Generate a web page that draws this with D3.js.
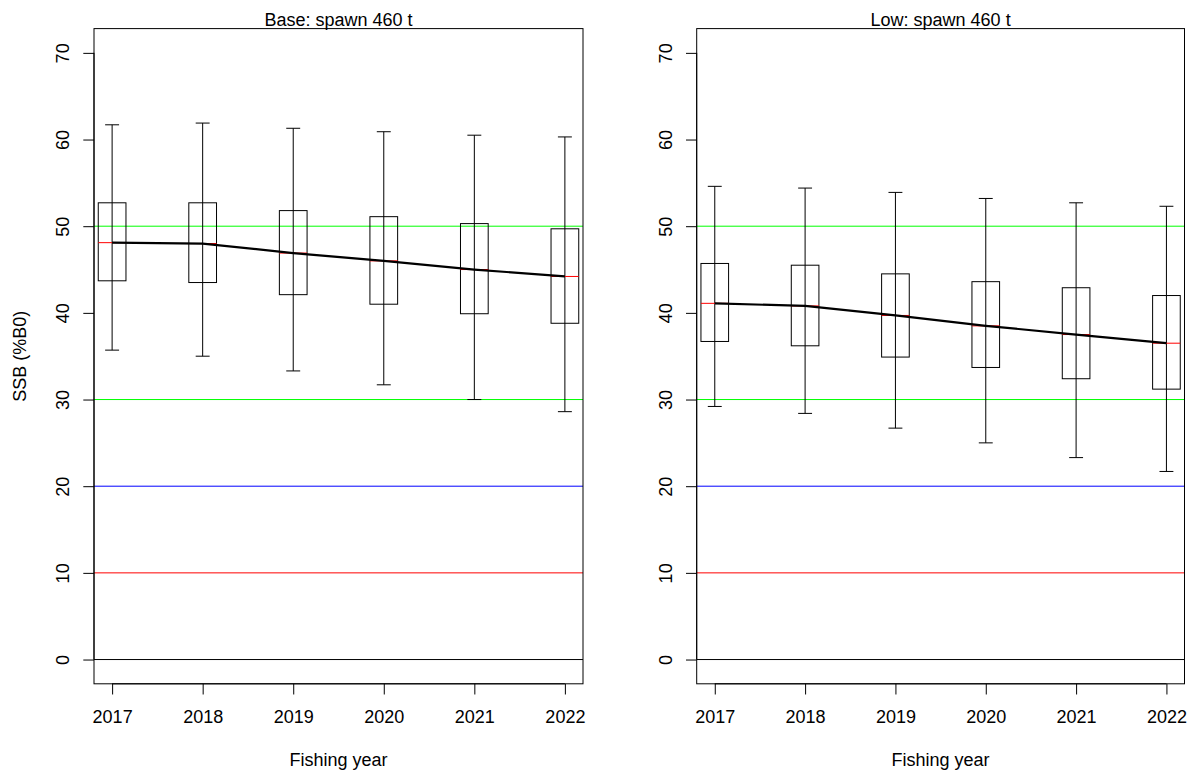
<!DOCTYPE html>
<html>
<head>
<meta charset="utf-8">
<script src="https://cdn.jsdelivr.net/npm/d3@7"></script>
<style>
  html, body { margin: 0; padding: 0; background: #fff; }
  svg { display: block; font-family: "Liberation Sans", Arial, sans-serif; }
</style>
</head>
<body>
<svg id="chart" width="1197" height="776"></svg>
<script>
// Projection years
const years = [2017, 2018, 2019, 2020, 2021, 2022];

// Base case: spawning biomass as %B0 (whisker ends, quartiles, median)
const baseUpper  = [61.7, 61.9, 61.3, 60.9, 60.5, 60.3];
const baseQ3     = [52.7, 52.7, 51.8, 51.1, 50.3, 49.7];
const baseMedian = [48.1, 48.0, 46.9, 46.0, 45.0, 44.2];
const baseQ1     = [43.7, 43.5, 42.1, 41.0, 39.9, 38.8];
const baseLower  = [35.7, 35.0, 33.3, 31.7, 30.0, 28.6];

// Low case
const lowUpper  = [54.6, 54.4, 53.9, 53.2, 52.7, 52.3];
const lowQ3     = [45.7, 45.5, 44.5, 43.6, 42.9, 42.0];
const lowMedian = [41.1, 40.8, 39.7, 38.5, 37.5, 36.5];
const lowQ1     = [36.7, 36.2, 34.9, 33.7, 32.4, 31.2];
const lowLower  = [29.2, 28.4, 26.7, 25.0, 23.3, 21.7];

// Reference levels: target range, soft and hard limits, zero
const refLevels = [50, 30, 20, 10, 0];
const refColors = ["#00ff00", "#00ff00", "#0000ff", "#ff0000", "#000000"];

const yTicks = [0, 10, 20, 30, 40, 50, 60, 70];
const panelTitles = ["Base: spawn 460 t", "Low: spawn 460 t"];
const xTitle = "Fishing year";
const yTitle = "SSB (%B0)";

function series(upper, q3, med, q1, lower) {
  return years.map((yr, i) => ({ year: yr, upper: upper[i], q3: q3[i], med: med[i], q1: q1[i], lower: lower[i] }));
}

const panels = [
  { title: panelTitles[0], data: series(baseUpper, baseQ3, baseMedian, baseQ1, baseLower), left: 94, right: 583, ylab: true },
  { title: panelTitles[1], data: series(lowUpper, lowQ3, lowMedian, lowQ1, lowLower), left: 696.7, right: 1184.5, ylab: false }
];

const plotTop = 28.6, plotBottom = 683.8;
const fontSize = 18;
const tickLen = 10.7;
const boxHalf = 0.153, stapleHalf = 0.077;

const svg = d3.select("#chart");

panels.forEach((p, pi) => {
  const x = d3.scaleLinear().domain([2016.8, 2022.2]).range([p.left, p.right]);
  const y = d3.scaleLinear().domain([-2.8, 72.8]).range([plotBottom, plotTop]);
  const g = svg.append("g");

  const clipId = "clip" + pi;
  svg.append("clipPath").attr("id", clipId)
    .append("rect").attr("x", p.left).attr("y", plotTop)
    .attr("width", p.right - p.left).attr("height", plotBottom - plotTop);

  const plot = g.append("g").attr("clip-path", `url(#${clipId})`);

  // horizontal reference lines
  plot.selectAll("line.ref").data(refLevels).join("line")
    .attr("class", "ref")
    .attr("x1", p.left).attr("x2", p.right)
    .attr("y1", d => y(d)).attr("y2", d => y(d))
    .attr("stroke", (d, i) => refColors[i]).attr("stroke-width", 1);

  // whiskers
  plot.selectAll("line.whisker").data(p.data).join("line")
    .attr("class", "whisker")
    .attr("x1", d => x(d.year)).attr("x2", d => x(d.year))
    .attr("y1", d => y(d.upper)).attr("y2", d => y(d.lower))
    .attr("stroke", "#000").attr("stroke-width", 1);

  ["upper", "lower"].forEach(k => {
    plot.selectAll("line.staple-" + k).data(p.data).join("line")
      .attr("class", "staple-" + k)
      .attr("x1", d => x(d.year - stapleHalf)).attr("x2", d => x(d.year + stapleHalf))
      .attr("y1", d => y(d[k])).attr("y2", d => y(d[k]))
      .attr("stroke", "#000").attr("stroke-width", 1);
  });

  // interquartile boxes
  plot.selectAll("rect.box").data(p.data).join("rect")
    .attr("class", "box")
    .attr("x", d => x(d.year - boxHalf))
    .attr("width", d => x(d.year + boxHalf) - x(d.year - boxHalf))
    .attr("y", d => y(d.q3))
    .attr("height", d => y(d.q1) - y(d.q3))
    .attr("fill", "none").attr("stroke", "#000").attr("stroke-width", 1);

  // medians
  plot.selectAll("line.median").data(p.data).join("line")
    .attr("class", "median")
    .attr("x1", d => x(d.year - boxHalf)).attr("x2", d => x(d.year + boxHalf))
    .attr("y1", d => y(d.med)).attr("y2", d => y(d.med))
    .attr("stroke", "#ff0000").attr("stroke-width", 1);

  // median trajectory
  plot.append("path").datum(p.data)
    .attr("d", d3.line().x(d => x(d.year)).y(d => y(d.med)))
    .attr("fill", "none").attr("stroke", "#000").attr("stroke-width", 2.2);

  // plot frame
  g.append("rect")
    .attr("x", p.left).attr("y", plotTop)
    .attr("width", p.right - p.left).attr("height", plotBottom - plotTop)
    .attr("fill", "none").attr("stroke", "#000").attr("stroke-width", 1);

  // x axis
  const xAxis = g.append("g").attr("transform", `translate(0,${plotBottom})`)
    .call(d3.axisBottom(x).tickValues(years).tickFormat(d3.format("d"))
      .tickSize(tickLen).tickPadding(0));
  xAxis.select(".domain")
    .attr("d", `M${x(years[0])},0H${x(years[years.length - 1])}`)
    .attr("stroke", "#000");
  xAxis.selectAll(".tick line").attr("stroke", "#000");
  xAxis.selectAll(".tick text")
    .attr("y", 39).attr("dy", null)
    .attr("font-size", fontSize).attr("font-family", "Liberation Sans, Arial, sans-serif")
    .attr("fill", "#000");

  // y axis
  const yAxis = g.append("g").attr("transform", `translate(${p.left},0)`)
    .call(d3.axisLeft(y).tickValues(yTicks).tickSize(tickLen).tickFormat(d3.format("d")));
  yAxis.select(".domain")
    .attr("d", `M0,${y(yTicks[0])}V${y(yTicks[yTicks.length - 1])}`)
    .attr("stroke", "#000");
  yAxis.selectAll(".tick line").attr("stroke", "#000");
  yAxis.selectAll(".tick text")
    .attr("x", null).attr("dy", null)
    .attr("transform", "translate(-25,0) rotate(-90)")
    .attr("text-anchor", "middle")
    .attr("font-size", fontSize).attr("font-family", "Liberation Sans, Arial, sans-serif")
    .attr("fill", "#000");

  // panel title
  g.append("text")
    .attr("x", (p.left + p.right) / 2).attr("y", 26)
    .attr("text-anchor", "middle").attr("font-size", fontSize)
    .text(p.title);

  // x title
  g.append("text")
    .attr("x", (p.left + p.right) / 2).attr("y", 765.5)
    .attr("text-anchor", "middle").attr("font-size", fontSize)
    .text(xTitle);

  if (p.ylab) {
    g.append("text")
      .attr("transform", `translate(26,${(plotTop + plotBottom) / 2}) rotate(-90)`)
      .attr("text-anchor", "middle").attr("font-size", fontSize)
      .text(yTitle);
  }
});
</script>
</body>
</html>
